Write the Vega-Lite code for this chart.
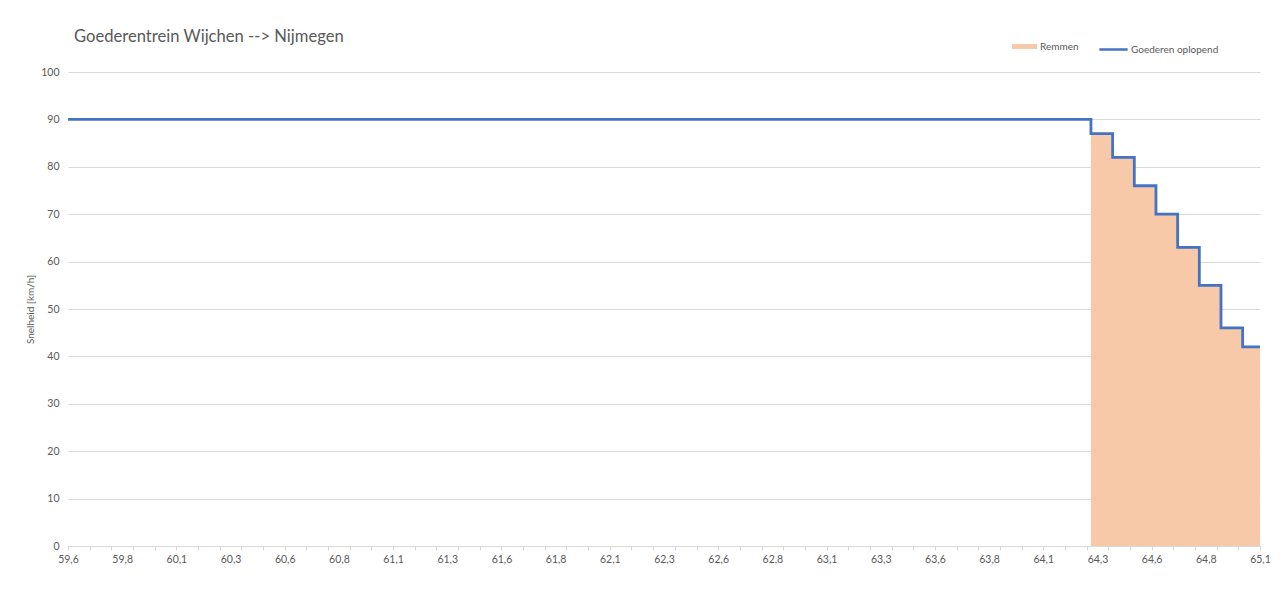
{
  "$schema": "https://vega.github.io/schema/vega-lite/v6.json",
  "width": 1192,
  "height": 474,
  "autosize": {"type": "none"},
  "padding": {"left": 68, "top": 72, "right": 27, "bottom": 63},
  "background": "white",
  "config": {
    "font": "Lato",
    "view": {"stroke": null},
    "axis": {"labelFont": "Lato", "titleFont": "Lato", "labelColor": "#595959", "titleColor": "#595959", "labelFontSize": 10.5},
    "legend": {"labelFont": "Lato", "labelColor": "#595959", "labelFontSize": 10}
  },
  "title": {
    "text": "Goederentrein Wijchen --> Nijmegen",
    "anchor": "start",
    "frame": "group",
    "dx": 6,
    "dy": 40,
    "offset": 28,
    "fontSize": 16.6,
    "fontWeight": "normal",
    "color": "#595959",
    "font": "Lato"
  },
  "data": {
    "values": [
      {"km": 59.6, "speed": 90},
      {"km": 64.32, "speed": 87},
      {"km": 64.42, "speed": 82},
      {"km": 64.52, "speed": 76},
      {"km": 64.62, "speed": 70},
      {"km": 64.72, "speed": 63},
      {"km": 64.82, "speed": 55},
      {"km": 64.92, "speed": 46},
      {"km": 65.02, "speed": 42},
      {"km": 65.1, "speed": 42}
    ]
  },
  "layer": [
    {
      "transform": [{"filter": "datum.km >= 64.3"}],
      "mark": {"type": "area", "interpolate": "step-after", "opacity": 1},
      "encoding": {
        "x": {
          "field": "km", "type": "quantitative",
          "scale": {"domain": [59.6, 65.1], "nice": false, "zero": false},
          "axis": {
            "orient": "bottom",
            "title": null,
            "values": [59.6, 59.85, 60.1, 60.35, 60.6, 60.85, 61.1, 61.35, 61.6, 61.85, 62.1, 62.35, 62.6, 62.85, 63.1, 63.35, 63.6, 63.85, 64.1, 64.35, 64.6, 64.85, 65.1],
            "labelExpr": "replace(format(floor(datum.value*10+0.001)/10, '.1f'), '.', ',')",
            "ticks": false,
            "domain": false,
            "grid": false,
            "labelPadding": 8,
            "labelFlush": false,
            "labelOverlap": false
          }
        },
        "y": {
          "field": "speed", "type": "quantitative",
          "scale": {"domain": [0, 100], "nice": false},
          "axis": {
            "title": "Snelheid [km/h]",
            "titleFontSize": 10,
            "titleFontWeight": "normal",
            "titlePadding": 5,
            "values": [0, 10, 20, 30, 40, 50, 60, 70, 80, 90, 100],
            "domain": false,
            "ticks": false,
            "labelPadding": 9,
            "grid": true,
            "gridColor": "#d9d9d9",
            "gridWidth": 1
          }
        },
        "fill": {
          "datum": "Remmen",
          "scale": {"domain": ["Remmen"], "range": ["#F7C9A9"]},
          "legend": {
            "title": null,
            "orient": "none",
            "legendX": 944,
            "legendY": -38,
            "symbolType": "M-1,-0.2H1V0.2H-1Z",
            "symbolSize": 625,
            "symbolStrokeWidth": 0,
            "labelOffset": 3
          }
        }
      }
    },
    {
      "mark": {"type": "line", "interpolate": "step-after", "strokeWidth": 2.8},
      "encoding": {
        "x": {
          "field": "km", "type": "quantitative",
          "scale": {"domain": [59.6, 65.1], "nice": false, "zero": false},
          "axis": {
            "orient": "bottom",
            "title": null,
            "values": [59.6, 59.7, 59.8, 59.9, 60.0, 60.1, 60.2, 60.3, 60.4, 60.5, 60.6, 60.7, 60.8, 60.9, 61.0, 61.1, 61.2, 61.3, 61.4, 61.5, 61.6, 61.7, 61.8, 61.9, 62.0, 62.1, 62.2, 62.3, 62.4, 62.5, 62.6, 62.7, 62.8, 62.9, 63.0, 63.1, 63.2, 63.3, 63.4, 63.5, 63.6, 63.7, 63.8, 63.9, 64.0, 64.1, 64.2, 64.3, 64.4, 64.5, 64.6, 64.7, 64.8, 64.9, 65.0, 65.1],
            "labels": false,
            "ticks": true,
            "tickSize": 4,
            "tickColor": "#d9d9d9",
            "domain": true,
            "domainColor": "#d9d9d9",
            "grid": false
          }
        },
        "y": {
          "field": "speed", "type": "quantitative",
          "scale": {"domain": [0, 100], "nice": false}
        },
        "stroke": {
          "datum": "Goederen oplopend",
          "scale": {"domain": ["Goederen oplopend"], "range": ["#4472C4"]},
          "legend": {
            "title": null,
            "orient": "none",
            "legendX": 1030,
            "legendY": -38,
            "symbolType": "stroke",
            "symbolSize": 800,
            "symbolStrokeWidth": 2.5,
            "labelOffset": 2
          }
        }
      }
    }
  ],
  "resolve": {"axis": {"x": "independent"}}
}
